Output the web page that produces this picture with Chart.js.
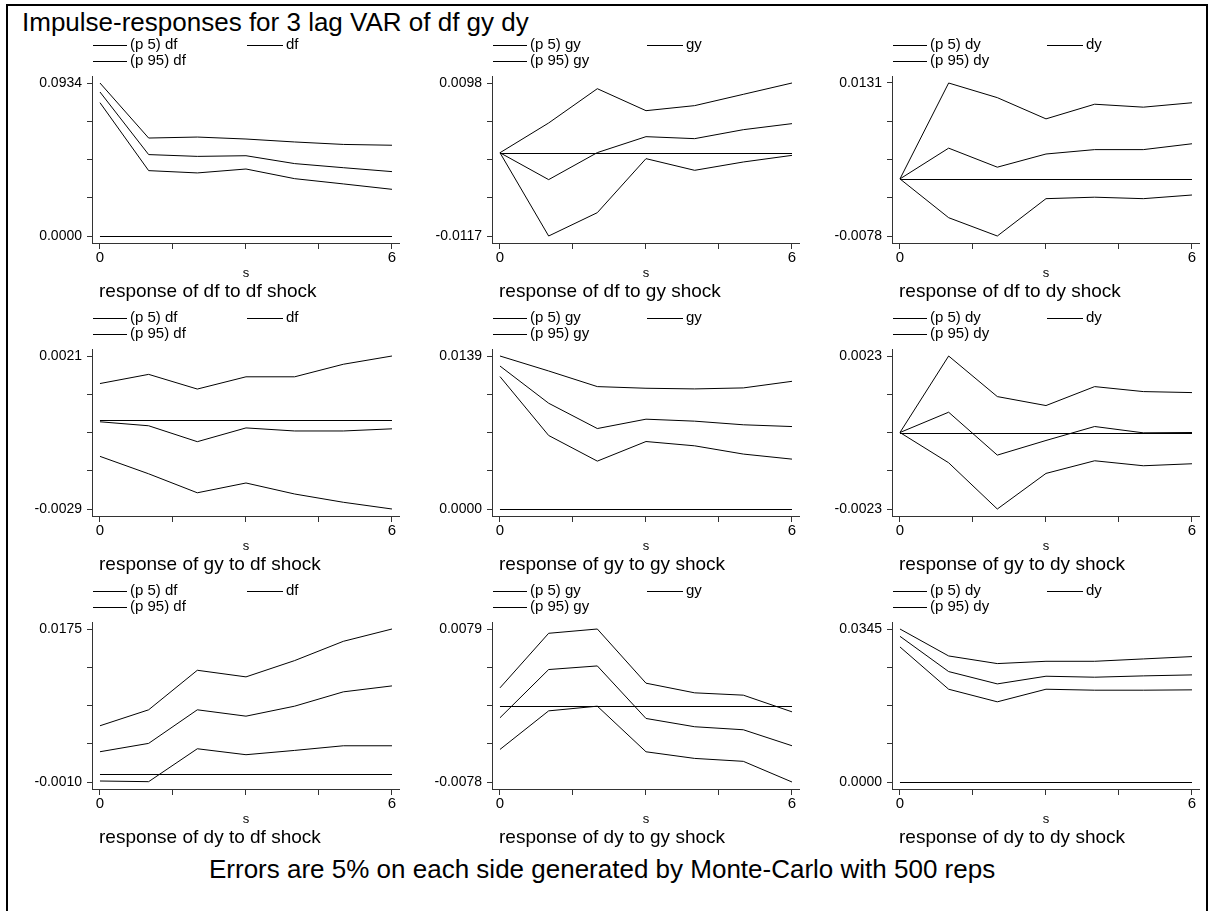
<!DOCTYPE html>
<html>
<head>
<meta charset="utf-8">
<title>Impulse-responses for 3 lag VAR of df gy dy</title>
<script src="https://cdn.jsdelivr.net/npm/chart.js@4/dist/chart.umd.min.js"></script>
<style>
body { margin:0; background:#fff; width:1212px; height:911px; overflow:hidden; position:relative; font-family:"Liberation Sans", Arial, sans-serif; color:#000; }
#frame { position:absolute; left:6px; top:4px; width:1202px; height:1000px; border:2px solid #000; box-sizing:border-box; }
#title { position:absolute; left:22px; top:9px; font-size:26px; line-height:26px; white-space:nowrap; }
#note { position:absolute; left:209px; top:856px; font-size:26px; line-height:26px; white-space:nowrap; }
canvas { position:absolute; }
</style>
</head>
<body>
<div id="frame"></div>
<div id="title">Impulse-responses for 3 lag VAR of df gy dy</div>
<div id="note">Errors are 5% on each side generated by Monte-Carlo with 500 reps</div>
<script>
const horizon = [0, 1, 2, 3, 4, 5, 6];
const xTickValues = [0, 1.5, 3, 4.5, 6];
const shocks = ['df', 'gy', 'dy'];     // columns
const responses = ['df', 'gy', 'dy'];  // rows

// response of df
const dfToDf_p5  = [0.0814, 0.0399, 0.0385, 0.0409, 0.0350, 0.0318, 0.0285];
const dfToDf_irf = [0.0879, 0.0497, 0.0486, 0.0490, 0.0442, 0.0417, 0.0393];
const dfToDf_p95 = [0.0934, 0.0598, 0.0604, 0.0592, 0.0574, 0.0559, 0.0554];

const dfToGy_p5  = [0, -0.0117, -0.00842, -0.00083, -0.00247, -0.0013, -0.00037];
const dfToGy_irf = [0, -0.00378, 0.00002, 0.00226, 0.00198, 0.00324, 0.00409];
const dfToGy_p95 = [0, 0.00418, 0.0090, 0.00591, 0.00662, 0.00821, 0.0098];

const dfToDy_p5  = [0, -0.0053, -0.0078, -0.0027, -0.0025, -0.0027, -0.0022];
const dfToDy_irf = [0, 0.0042, 0.0016, 0.0034, 0.0040, 0.0040, 0.0048];
const dfToDy_p95 = [0, 0.0131, 0.0111, 0.0082, 0.0102, 0.0098, 0.0104];

// response of gy
const gyToDf_p5  = [-0.00118, -0.00175, -0.00237, -0.00205, -0.00241, -0.00268, -0.0029];
const gyToDf_irf = [-0.00005, -0.00018, -0.0007, -0.00025, -0.00035, -0.00035, -0.00028];
const gyToDf_p95 = [0.0012, 0.0015, 0.00102, 0.00142, 0.00142, 0.00183, 0.0021];

const gyToGy_p5  = [0.01203, 0.00668, 0.00435, 0.00613, 0.00574, 0.00499, 0.00453];
const gyToGy_irf = [0.01299, 0.00961, 0.00731, 0.00816, 0.00798, 0.00765, 0.00749];
const gyToGy_p95 = [0.0139, 0.01254, 0.01112, 0.01097, 0.01091, 0.0110, 0.0116];

const gyToDy_p5  = [0, -0.00091, -0.0023, -0.00123, -0.00085, -0.0010, -0.00094];
const gyToDy_irf = [0, 0.00061, -0.00068, -0.00024, 0.00018, -0.00001, 0];
const gyToDy_p95 = [0, 0.0023, 0.00108, 0.00081, 0.00138, 0.00123, 0.0012];

// response of dy
const dyToDf_p5  = [-0.00088, -0.00096, 0.00302, 0.0023, 0.00282, 0.00338, 0.00338];
const dyToDf_irf = [0.00266, 0.00367, 0.00773, 0.00696, 0.00817, 0.0099, 0.01062];
const dyToDf_p95 = [0.0058, 0.00773, 0.01251, 0.01171, 0.01368, 0.01601, 0.0175];

const dyToGy_p5  = [-0.00446, -0.0005, -0.00002, -0.0047, -0.00538, -0.00568, -0.0078];
const dyToGy_irf = [-0.00121, 0.00374, 0.00411, -0.00128, -0.00213, -0.00244, -0.00408];
const dyToGy_p95 = [0.00186, 0.00746, 0.0079, 0.00234, 0.00135, 0.00111, -0.0006];

const dyToDy_p5  = [0.03045, 0.02092, 0.01808, 0.02092, 0.0207, 0.0207, 0.02078];
const dyToDy_irf = [0.03285, 0.0249, 0.02212, 0.02385, 0.02363, 0.02393, 0.02415];
const dyToDy_p95 = [0.0345, 0.02842, 0.0267, 0.02722, 0.02722, 0.02775, 0.02828];

// labelled y ticks (top / bottom) of each panel, row by row
const axisTop    = [0.0934, 0.0098, 0.0131, 0.0021, 0.0139, 0.0023, 0.0175, 0.0079, 0.0345];
const axisBottom = [0.0000, -0.0117, -0.0078, -0.0029, 0.0000, -0.0023, -0.0010, -0.0078, 0.0000];

const panels = [
    [dfToDf_p5, dfToDf_irf, dfToDf_p95], [dfToGy_p5, dfToGy_irf, dfToGy_p95], [dfToDy_p5, dfToDy_irf, dfToDy_p95],
    [gyToDf_p5, gyToDf_irf, gyToDf_p95], [gyToGy_p5, gyToGy_irf, gyToGy_p95], [gyToDy_p5, gyToDy_irf, gyToDy_p95],
    [dyToDf_p5, dyToDf_irf, dyToDf_p95], [dyToGy_p5, dyToGy_irf, dyToGy_p95], [dyToDy_p5, dyToDy_irf, dyToDy_p95]
];

const FONT = '"Liberation Sans", Arial, sans-serif';
Chart.defaults.font.family = FONT;
Chart.defaults.color = '#000';

// zero line, two-column legend, axis title "s" and the panel caption
const panelText = {
    id: 'panelText',
    beforeDatasetsDraw(chart) {
        const ctx = chart.ctx;
        const x = chart.scales.x, y = chart.scales.y;
        const y0 = Math.round(y.getPixelForValue(0)) + 0.5;
        ctx.save();
        ctx.strokeStyle = '#000';
        ctx.lineWidth = 1;
        ctx.beginPath();
        ctx.moveTo(x.getPixelForValue(0), y0);
        ctx.lineTo(x.getPixelForValue(6), y0);
        ctx.stroke();
        ctx.restore();
    },
    afterDraw(chart, args, opts) {
        const ctx = chart.ctx;
        const x = chart.scales.x;
        ctx.save();
        ctx.fillStyle = '#000';
        ctx.strokeStyle = '#000';
        ctx.lineWidth = 1;
        ctx.textBaseline = 'middle';
        ctx.textAlign = 'left';
        ctx.font = '15px ' + FONT;
        // p5 | irf on first row, p95 on second
        const slots = [[93, 127, 130, 25], [247, 283, 286, 25], [93, 127, 130, 41]];
        chart.data.datasets.forEach((d, i) => {
            const s = slots[i];
            ctx.beginPath();
            ctx.moveTo(s[0], s[3] + 0.5);
            ctx.lineTo(s[1], s[3] + 0.5);
            ctx.stroke();
            ctx.fillText(d.label, s[2], s[3]);
        });
        ctx.textAlign = 'center';
        ctx.font = '13px ' + FONT;
        ctx.fillText('s', x.getPixelForValue(3), 253);
        ctx.textAlign = 'left';
        ctx.font = '19px ' + FONT;
        ctx.fillText('response of ' + opts.resp + ' to ' + opts.shock + ' shock', 99, 272);
        ctx.restore();
    }
};

panels.forEach((series, i) => {
    const r = Math.floor(i / 3), c = i % 3;
    const canvas = document.createElement('canvas');
    canvas.width = 400;
    canvas.height = 290;
    canvas.style.left = (400 * c) + 'px';
    canvas.style.top = (273 * r + 20) + 'px';
    document.body.appendChild(canvas);

    const shock = shocks[c];
    const lo = axisBottom[i], hi = axisTop[i];
    const pad = (hi - lo) * 7 / 153;
    const names = ['(p 5) ' + shock, shock, '(p 95) ' + shock];

    new Chart(canvas.getContext('2d'), {
        type: 'line',
        data: {
            datasets: series.map((vals, k) => ({
                label: names[k],
                data: horizon.map((h, j) => ({ x: h, y: vals[j] })),
                borderColor: '#000',
                borderWidth: 1,
                pointRadius: 0,
                tension: 0,
                fill: false
            }))
        },
        options: {
            responsive: false,
            animation: false,
            devicePixelRatio: 1,
            layout: { padding: { left: 32, right: 1, top: 56, bottom: 37 } },
            plugins: {
                legend: { display: false },
                tooltip: { enabled: false },
                panelText: { resp: responses[r], shock: shock }
            },
            scales: {
                x: {
                    type: 'linear',
                    min: -0.164,
                    max: 6.144,
                    afterBuildTicks: s => { s.ticks = xTickValues.map(v => ({ value: v })); },
                    afterFit: s => { s.height = 30; },
                    ticks: {
                        autoSkip: false,
                        maxRotation: 0,
                        padding: 0,
                        font: { size: 15 },
                        callback: v => (v === 0 || v === 6) ? String(v) : ''
                    },
                    grid: { drawOnChartArea: false, drawTicks: true, tickLength: 6, color: '#333' },
                    border: { display: true, color: '#333' }
                },
                y: {
                    type: 'linear',
                    min: lo - pad,
                    max: hi + pad,
                    afterBuildTicks: s => {
                        s.ticks = [0, 1, 2, 3, 4].map(k => ({ value: lo + k * (hi - lo) / 4 }));
                    },
                    afterFit: s => { s.width = 60; },
                    ticks: {
                        autoSkip: false,
                        padding: 5,
                        font: { size: 14 },
                        callback: (v, idx) => (idx === 0 || idx === 4) ? v.toFixed(4) : ''
                    },
                    grid: { drawOnChartArea: false, drawTicks: true, tickLength: 5, color: '#333' },
                    border: { display: true, color: '#333' }
                }
            }
        },
        plugins: [panelText]
    });
});
</script>
</body>
</html>
